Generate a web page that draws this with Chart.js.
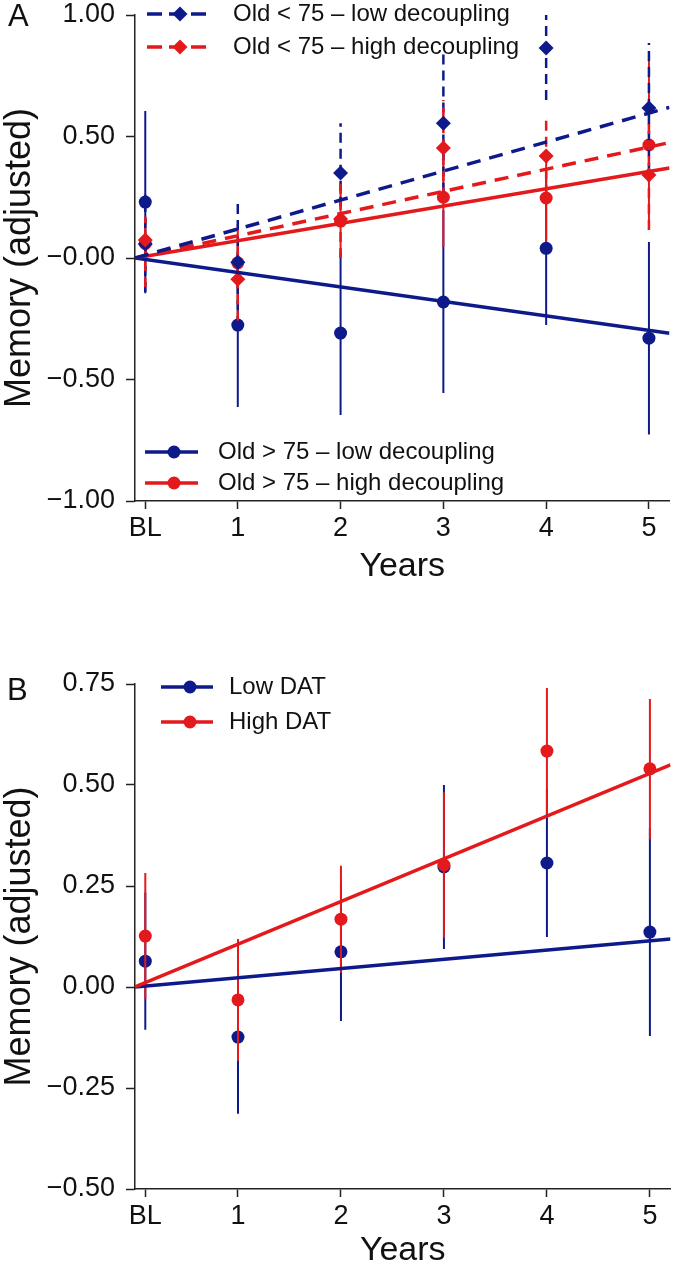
<!DOCTYPE html>
<html>
<head>
<meta charset="utf-8">
<script src="https://cdn.jsdelivr.net/npm/chart.js@4.4.1/dist/chart.umd.min.js"></script>
<style>
  html, body { margin: 0; padding: 0; background: #fff; }
  canvas { display: block; }
</style>
</head>
<body>
<canvas id="chartA" width="677" height="620"></canvas>
<canvas id="chartB" width="677" height="648"></canvas>
<script>
// x positions shared by both panels (BL sits just right of the origin)
const years = [0.1, 1, 2, 3, 4, 5];
const yearLabels = ['BL', '1', '2', '3', '4', '5'];
const fitX = [0, 5.2];

// Panel A
const seriesA = ['Old < 75 \u2013 low decoupling', 'Old < 75 \u2013 high decoupling',
                 'Old > 75 \u2013 low decoupling', 'Old > 75 \u2013 high decoupling'];
const aTickVals = [-1, -0.5, 0, 0.5, 1];
const aTickLabels = ['\u22121.00', '\u22120.50', '\u22120.00', '0.50', '1.00'];

const youngLowMean = [0.058, -0.017, 0.35, 0.555, 0.864, 0.617];
const youngLowLo   = [-0.14, -0.28, 0.145, 0.27, 0.65, 0.35];
const youngLowHi   = [0.26, 0.247, 0.555, 0.84, 1.08, 0.885];
const youngLowFit  = [0, 0.62];

const youngHighMean = [0.074, -0.087, 0.16, 0.453, 0.42, 0.342];
const youngHighLo   = [-0.12, -0.257, 0.0, 0.25, 0.26, 0.115];
const youngHighHi   = [0.17, 0.083, 0.32, 0.65, 0.58, 0.57];
const youngHighFit  = [0, 0.475];

const oldLowMean = [0.23, -0.276, -0.309, -0.181, 0.04, -0.33];
const oldLowLo   = [-0.145, -0.613, -0.646, -0.556, -0.276, -0.726];
const oldLowHi   = [0.605, 0.06, 0.028, 0.196, 0.356, 0.066];
const oldLowFit  = [0, -0.31];

const oldHighMean = [0.06, -0.02, 0.152, 0.25, 0.247, 0.465];
const oldHighLo   = [-0.05, -0.18, 0.0, 0.045, 0.053, 0.115];
const oldHighHi   = [0.17, 0.14, 0.3, 0.455, 0.44, 0.815];
const oldHighFit  = [0, 0.37];

// Panel B
const seriesB = ['Low DAT', 'High DAT'];
const bTickVals = [-0.5, -0.25, 0, 0.25, 0.5, 0.75];
const bTickLabels = ['\u22120.50', '\u22120.25', '0.00', '0.25', '0.50', '0.75'];

const lowDatMean = [0.064, -0.124, 0.087, 0.297, 0.307, 0.136];
const lowDatLo   = [-0.106, -0.314, -0.084, 0.094, 0.124, -0.121];
const lowDatHi   = [0.234, 0.066, 0.258, 0.50, 0.49, 0.393];
const lowDatFit  = [0, 0.119];

const highDatMean = [0.126, -0.032, 0.168, 0.302, 0.584, 0.54];
const highDatLo   = [-0.03, -0.183, 0.035, 0.122, 0.428, 0.365];
const highDatHi   = [0.282, 0.119, 0.30, 0.482, 0.74, 0.713];
const highDatFit  = [0, 0.55];

const NAVY = '#0e1a8a';
const RED = '#e3191c';
const FONT = '"Liberation Sans", Arial, Helvetica, sans-serif';

function errorBars(lo, hi) {
    const pts = [];
    years.forEach((x, i) => {
        pts.push({ x: x, y: lo[i] }, { x: x, y: hi[i] }, { x: x, y: null });
    });
    return pts;
}

function barSet(label, lo, hi, color, dashed) {
    return {
        label, role: 'bar',
        data: errorBars(lo, hi),
        borderColor: color,
        borderWidth: dashed ? 2.5 : 2,
        borderDash: dashed ? [10, 6] : [],
        pointRadius: 0,
        spanGaps: false,
        fill: false
    };
}

function markerSet(label, mean, color, style) {
    return {
        label, role: 'marker',
        data: years.map((x, i) => ({ x: x, y: mean[i] })),
        showLine: false,
        pointStyle: style,
        pointRadius: style === 'circle' ? 6.5 : 7.5,
        pointBackgroundColor: color,
        pointBorderWidth: 0,
        backgroundColor: color,
        borderColor: color
    };
}

function fitSet(label, ends, color, dashed) {
    return {
        label, role: 'fit',
        data: fitX.map((x, i) => ({ x: x, y: ends[i] })),
        borderColor: color,
        borderWidth: 3.5,
        borderDash: dashed ? [14, 9] : [],
        pointRadius: 0,
        fill: false
    };
}

// Legend drawn inside the plot area
function drawLegend(chart, opts) {
    const ctx = chart.ctx;
    ctx.save();
    opts.rows.forEach(row => {
        const find = role => chart.data.datasets.find(d => d.label === row.label && d.role === role);
        const fit = find('fit');
        const mk = find('marker');
        ctx.strokeStyle = fit.borderColor;
        ctx.lineWidth = opts.lineWidth;
        ctx.setLineDash(fit.borderDash.length ? opts.dash : []);
        ctx.beginPath();
        ctx.moveTo(opts.x0, row.y);
        ctx.lineTo(opts.x1, row.y);
        ctx.stroke();
        ctx.setLineDash([]);

        ctx.fillStyle = mk.pointBackgroundColor;
        const r = mk.pointRadius;
        ctx.beginPath();
        if (mk.pointStyle === 'circle') {
            ctx.arc(opts.xm, row.y, r, 0, Math.PI * 2);
        } else {
            ctx.moveTo(opts.xm, row.y - r);
            ctx.lineTo(opts.xm + r, row.y);
            ctx.lineTo(opts.xm, row.y + r);
            ctx.lineTo(opts.xm - r, row.y);
            ctx.closePath();
        }
        ctx.fill();

        ctx.fillStyle = '#111';
        ctx.font = '24px ' + FONT;
        ctx.textBaseline = 'middle';
        ctx.textAlign = 'left';
        ctx.fillText(row.label, opts.tx, row.y);
    });
    ctx.restore();
}

const insetLegend = {
    id: 'insetLegend',
    afterDraw(chart, args, opts) {
        (opts.groups || []).forEach(g => drawLegend(chart, g));
    }
};

const panelLetter = {
    id: 'panelLetter',
    afterDraw(chart, args, opts) {
        if (!opts.text) return;
        const ctx = chart.ctx;
        ctx.save();
        ctx.fillStyle = '#111';
        ctx.font = '31px ' + FONT;
        ctx.textBaseline = 'alphabetic';
        ctx.textAlign = 'left';
        ctx.fillText(opts.text, opts.x, opts.y);
        ctx.restore();
    }
};

function xScale(height, titlePad) {
    return {
        type: 'linear',
        min: 0,
        max: 5.2,
        afterBuildTicks: axis => { axis.ticks = years.map(v => ({ value: v })); },
        afterFit: scale => {
            scale.height = height;
            scale.paddingLeft = 0;
            scale.paddingRight = 0;
        },
        ticks: {
            autoSkip: false,
            maxRotation: 0,
            padding: 6,
            color: '#111',
            font: { family: FONT, size: 27, lineHeight: 1 },
            callback: (v, i) => yearLabels[i]
        },
        grid: { drawOnChartArea: false, drawTicks: true, tickLength: 8, tickColor: '#222', tickWidth: 1.5 },
        border: { display: true, color: '#222', width: 1.5 },
        title: {
            display: true,
            text: 'Years',
            color: '#111',
            font: { family: FONT, size: 34, lineHeight: 1 },
            padding: { top: 0, bottom: titlePad }
        }
    };
}

function yScale(min, max, vals, labels) {
    return {
        type: 'linear',
        min: min,
        max: max,
        afterBuildTicks: axis => { axis.ticks = vals.map(v => ({ value: v })); },
        afterFit: scale => {
            scale.width = 135;
            scale.paddingTop = 0;
            scale.paddingBottom = 0;
        },
        ticks: {
            padding: 11,
            color: '#111',
            font: { family: FONT, size: 27, lineHeight: 1 },
            callback: (v, i) => labels[i]
        },
        grid: { drawOnChartArea: false, drawTicks: true, tickLength: 9, tickColor: '#222', tickWidth: 1.5 },
        border: { display: true, color: '#222', width: 1.5 },
        title: {
            display: true,
            text: 'Memory (adjusted)',
            color: '#111',
            font: { family: FONT, size: 36, lineHeight: 1 },
            padding: { top: 2, bottom: 0 }
        }
    };
}

Chart.register(insetLegend, panelLetter);

// Panel A (first dataset in the list is drawn on top)
new Chart(document.getElementById('chartA'), {
    type: 'line',
    data: {
        datasets: [
            fitSet(seriesA[0], youngLowFit, NAVY, true),
            fitSet(seriesA[1], youngHighFit, RED, true),
            fitSet(seriesA[2], oldLowFit, NAVY, false),
            fitSet(seriesA[3], oldHighFit, RED, false),
            markerSet(seriesA[1], youngHighMean, RED, 'rectRot'),
            markerSet(seriesA[0], youngLowMean, NAVY, 'rectRot'),
            barSet(seriesA[1], youngHighLo, youngHighHi, RED, true),
            barSet(seriesA[0], youngLowLo, youngLowHi, NAVY, true),
            markerSet(seriesA[3], oldHighMean, RED, 'circle'),
            markerSet(seriesA[2], oldLowMean, NAVY, 'circle'),
            barSet(seriesA[3], oldHighLo, oldHighHi, RED, false),
            barSet(seriesA[2], oldLowLo, oldLowHi, NAVY, false)
        ]
    },
    options: {
        responsive: false,
        animation: false,
        events: [],
        layout: { padding: { left: 0, top: 15, right: 3, bottom: 0 } },
        scales: {
            x: xScale(119, 36),
            y: yScale(-1, 1, aTickVals, aTickLabels)
        },
        plugins: {
            legend: { display: false },
            tooltip: { enabled: false },
            panelLetter: { text: 'A', x: 8, y: 26 },
            insetLegend: {
                groups: [
                    {
                        x0: 147, x1: 213, xm: 180, tx: 233, lineWidth: 3.5, dash: [15, 7],
                        rows: [{ label: seriesA[0], y: 14 }, { label: seriesA[1], y: 47 }]
                    },
                    {
                        x0: 145, x1: 198, xm: 174, tx: 218, lineWidth: 3.5, dash: [],
                        rows: [{ label: seriesA[2], y: 452 }, { label: seriesA[3], y: 483 }]
                    }
                ]
            }
        }
    }
});

// Panel B
new Chart(document.getElementById('chartB'), {
    type: 'line',
    data: {
        datasets: [
            fitSet(seriesB[1], highDatFit, RED, false),
            fitSet(seriesB[0], lowDatFit, NAVY, false),
            markerSet(seriesB[1], highDatMean, RED, 'circle'),
            barSet(seriesB[1], highDatLo, highDatHi, RED, false),
            markerSet(seriesB[0], lowDatMean, NAVY, 'circle'),
            barSet(seriesB[0], lowDatLo, lowDatHi, NAVY, false)
        ]
    },
    options: {
        responsive: false,
        animation: false,
        events: [],
        layout: { padding: { left: 0, top: 64, right: 6, bottom: 0 } },
        scales: {
            x: xScale(79, 0),
            y: yScale(-0.5, 0.75, bTickVals, bTickLabels)
        },
        plugins: {
            legend: { display: false },
            tooltip: { enabled: false },
            panelLetter: { text: 'B', x: 7, y: 80 },
            insetLegend: {
                groups: [
                    {
                        x0: 161, x1: 213, xm: 190, tx: 229, lineWidth: 3.5, dash: [],
                        rows: [{ label: seriesB[0], y: 67 }, { label: seriesB[1], y: 102 }]
                    }
                ]
            }
        }
    }
});
</script>
</body>
</html>
